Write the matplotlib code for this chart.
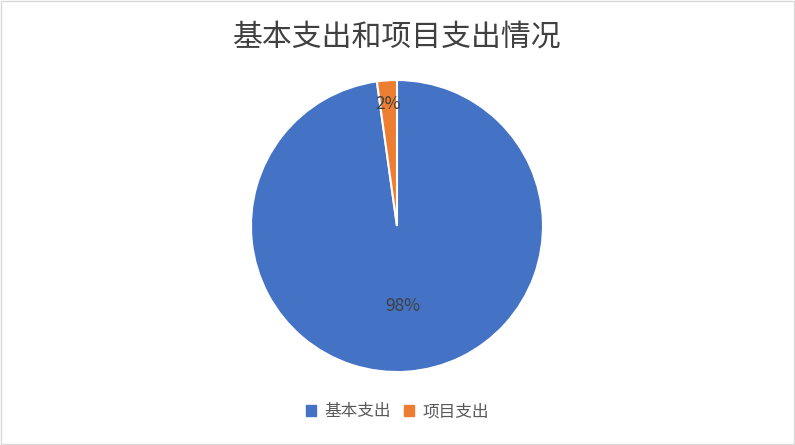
import matplotlib.pyplot as plt
from matplotlib.patches import Rectangle
import numpy as np

plt.rcParams['font.family'] = ['Noto Sans CJK SC', 'DejaVu Sans']

# data
categories = ['基本支出', '项目支出']
values = [97.8, 2.2]
colors = ['#4472C4', '#ED7D31']
title = '基本支出和项目支出情况'

fig = plt.figure(figsize=(7.95, 4.45), dpi=100)
fig.patch.set_facecolor('white')
fig.patches.append(Rectangle((0.0015, 0.002), 0.997, 0.995, transform=fig.transFigure,
                             fill=False, edgecolor='#d9d9d9', linewidth=1))

ax = fig.add_axes([0.3157, 0.164, 0.3673, 0.6562])
wedges, _ = ax.pie(values, colors=colors, startangle=90, counterclock=False,
                   wedgeprops=dict(edgecolor='white', linewidth=1.5))
ax.set_xlim(-1, 1)
ax.set_ylim(-1, 1)
ax.set_aspect('equal')

# percentage labels, Excel-like placement
dists = [0.55, 0.84]
for w, v, d in zip(wedges, values, dists):
    mid = np.deg2rad((w.theta1 + w.theta2) / 2)
    ax.text(d * np.cos(mid), d * np.sin(mid), '%.0f%%' % v, ha='center', va='center',
            fontsize=12.5, color='#404040')

fig.text(0.5, 0.917, title, ha='center', va='center', fontsize=21.5, color='#404040')

handles = [Rectangle((0, 0), 1, 1, color=c) for c in colors]
fig.legend(handles, categories, loc='center', bbox_to_anchor=(0.5, 0.075), ncol=2,
           frameon=False, fontsize=12, handlelength=0.6, handleheight=0.6,
           handletextpad=0.5, columnspacing=0.8, labelcolor='#595959')

fig.savefig('out.png', dpi=100)
